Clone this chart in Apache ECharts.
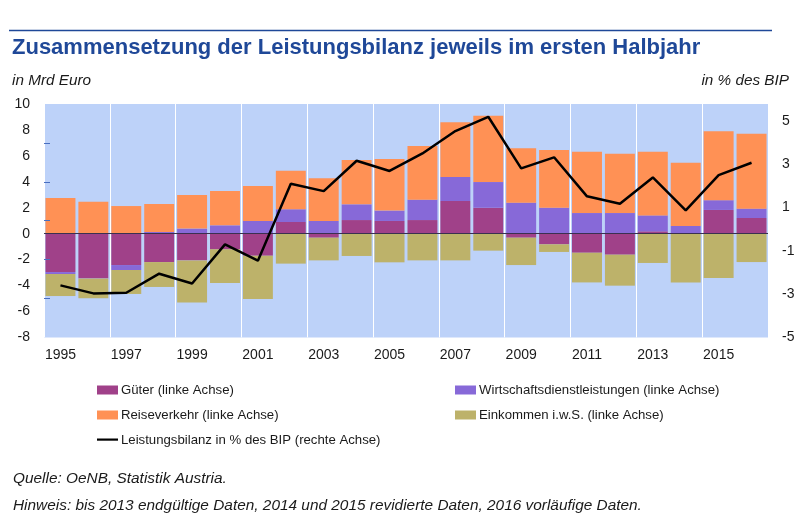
<!DOCTYPE html>
<html><head><meta charset="utf-8">
<style>html,body{margin:0;padding:0;background:#fff}#c{width:800px;height:516px}</style>
<script src="https://cdn.jsdelivr.net/npm/echarts@6/dist/echarts.min.js"></script>
</head><body><div id="c"></div>
<script>
const years = ['1995','1996','1997','1998','1999','2000','2001','2002','2003','2004','2005','2006','2007','2008','2009','2010','2011','2012','2013','2014','2015','2016'];
const gueter = [-2.96,-3.44,-2.42,-2.19,-2.06,-1.21,-1.70,0.90,-0.31,1.05,0.98,1.05,2.52,2.00,-0.31,-0.82,-1.47,-1.62,0.18,-0.02,1.83,1.21];
const dienst = [-0.15,-0.02,-0.38,0.13,0.39,0.64,0.98,0.98,0.98,1.21,0.80,1.57,1.85,1.98,2.39,2.00,1.59,1.59,1.23,0.59,0.75,0.72];
const reise = [2.75,2.47,2.13,2.16,2.60,2.65,2.70,2.98,3.29,3.42,3.98,4.14,4.22,5.12,4.19,4.45,4.73,4.58,4.91,4.88,5.32,5.78];
const einkommen = [-1.70,-1.52,-1.85,-1.92,-3.24,-2.59,-3.34,-2.31,-1.75,-1.72,-2.21,-2.06,-2.06,-1.31,-2.11,-0.59,-2.29,-2.39,-2.26,-3.75,-3.42,-2.19];
const bilanz = [-2.60,-2.97,-2.94,-2.06,-2.51,-0.71,-1.46,2.09,1.75,3.15,2.68,3.49,4.52,5.18,2.80,3.31,1.51,1.17,2.38,0.86,2.49,3.06];
const leftMinorTicks = [-5,-2,1,4,7];

const FONT = '"Liberation Sans", Arial, sans-serif';
const LINE_ICON = 'path://M0 0L0 0M0 3H21V5.2H0ZM21 9L21 9';
const bar = (name, data, color, extra) => Object.assign({
  name, type: 'bar', stack: 'total', data, barCategoryGap: '9%',
  itemStyle: { color }, emphasis: { disabled: true }, animation: false
}, extra || {});
const txt = (text, left, top, style, right) => {
  const o = { text, top, padding: 0, textStyle: Object.assign({ fontFamily: FONT, color: '#1a1a1a', fontWeight: 'normal' }, style) };
  if (right !== undefined) o.right = right; else o.left = left;
  return o;
};
const legendBase = { top: 382, padding: 0, orient: 'vertical', itemGap: 9, itemWidth: 21, itemHeight: 9, icon: 'rect',
  textStyle: { fontFamily: FONT, fontSize: 13.2, color: '#1a1a1a', padding: [0, 0, 0, -2], lineHeight: 16 } };
const chart = echarts.init(document.getElementById('c'));
chart.setOption({
  animation: false,
  backgroundColor: '#fff',
  title: [
    txt('Zusammensetzung der Leistungsbilanz jeweils im ersten Halbjahr', 12, 37, { fontSize: 22, fontWeight: 'bold', color: '#1f4898' }),
    txt('in Mrd Euro', 12, 73, { fontSize: 15.3, fontStyle: 'italic' }),
    txt('in % des BIP', 0, 73, { fontSize: 15.3, fontStyle: 'italic' }, 11),
    txt('Quelle: OeNB, Statistik Austria.', 13, 471, { fontSize: 15.4, fontStyle: 'italic' }),
    txt('Hinweis: bis 2013 endgültige Daten, 2014 und 2015 revidierte Daten, 2016 vorläufige Daten.', 13, 498, { fontSize: 15.4, fontStyle: 'italic' })
  ],
  graphic: [{ type: 'line', shape: { x1: 9, y1: 30.5, x2: 772, y2: 30.5 }, style: { stroke: '#1f4898', lineWidth: 1.5 } }],
  legend: [
    Object.assign({}, legendBase, { left: 97,
      data: ['Güter (linke Achse)', 'Reiseverkehr (linke Achse)',
        { name: 'Leistungsbilanz in % des BIP (rechte Achse)', icon: LINE_ICON }] }),
    Object.assign({}, legendBase, { left: 455,
      data: ['Wirtschaftsdienstleistungen (linke Achse)', 'Einkommen i.w.S. (linke Achse)'] })
  ],
  grid: { left: 44, top: 104, width: 724, height: 233.4, show: true, backgroundColor: '#bdd2f9', borderWidth: 0, containLabel: false },
  xAxis: {
    type: 'category', data: years, position: 'bottom',
    axisLine: { show: false, onZero: false }, axisTick: { show: false },
    axisLabel: { interval: 1, color: '#1a1a1a', fontFamily: FONT, fontSize: 14, margin: 11 },
    splitLine: { show: true, interval: 1, lineStyle: { color: '#ffffff', width: 1 } }
  },
  yAxis: [
    { type: 'value', min: -8, max: 10, interval: 2, position: 'left',
      axisLine: { show: false }, axisTick: { show: false }, splitLine: { show: false },
      axisLabel: { color: '#1a1a1a', fontFamily: FONT, fontSize: 14, margin: 14 } },
    { type: 'value', min: -5, max: 5.77, interval: 2, position: 'right',
      axisLine: { show: false }, axisTick: { show: false }, splitLine: { show: false },
      axisLabel: { color: '#1a1a1a', fontFamily: FONT, fontSize: 14, margin: 14, showMaxLabel: false } },
    { type: 'value', min: -8, max: 10, interval: 3, position: 'left', z: 8,
      axisLine: { show: false }, splitLine: { show: false }, axisLabel: { show: false },
      axisTick: { show: true, inside: true, length: 6, customValues: leftMinorTicks, lineStyle: { color: '#4a6fc0', width: 1 } } }
  ],
  series: [
    bar('Güter (linke Achse)', gueter, '#a04189', {
      markLine: { silent: true, symbol: 'none', label: { show: false }, animation: false, z: 9,
        lineStyle: { color: '#3a3050', width: 1, type: 'solid' }, data: [{ yAxis: 0 }] }
    }),
    bar('Wirtschaftsdienstleistungen (linke Achse)', dienst, '#8769d8'),
    bar('Reiseverkehr (linke Achse)', reise, '#ff9155'),
    bar('Einkommen i.w.S. (linke Achse)', einkommen, '#bdb26a'),
    { name: 'Leistungsbilanz in % des BIP (rechte Achse)', type: 'line', yAxisIndex: 1, data: bilanz, symbol: 'none',
      lineStyle: { color: '#000', width: 2.5 }, itemStyle: { color: '#000' }, z: 10, emphasis: { disabled: true }, animation: false }
  ]
});
</script></body></html>
